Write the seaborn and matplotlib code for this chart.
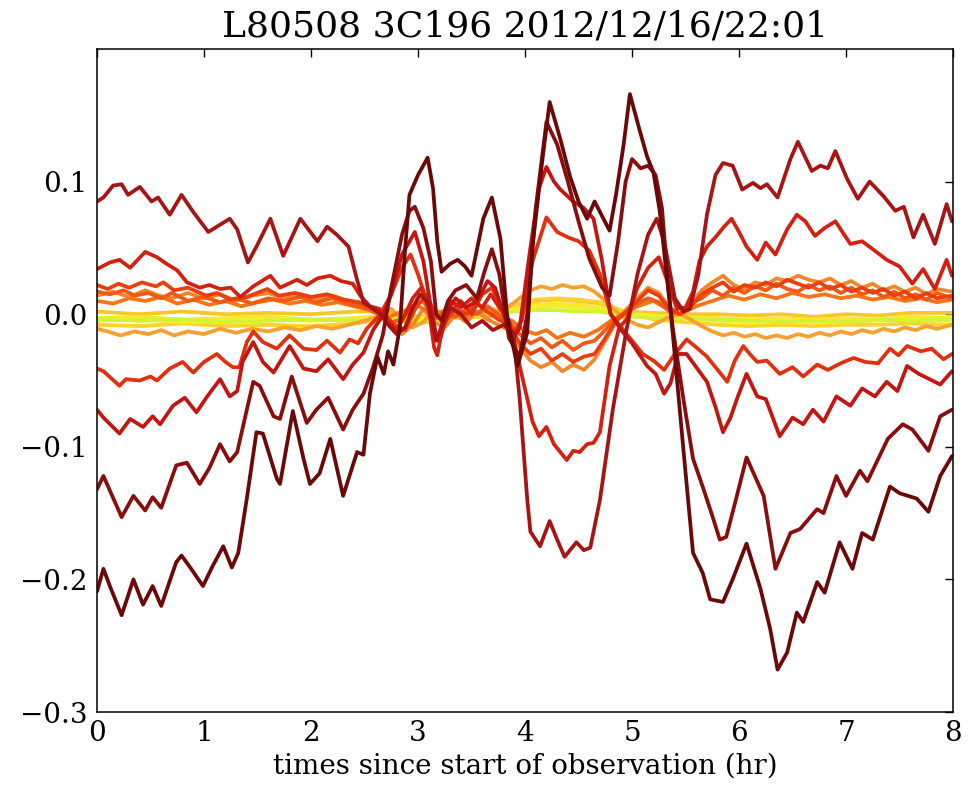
import matplotlib
matplotlib.use("Agg")
import matplotlib.pyplot as plt
import seaborn as sns
import pandas as pd

# ---------------------------------------------------------------- data ----
# time since start of observation (hr) and value for every station trace

f_hr = [0.00, 0.06, 0.12, 0.23, 0.34, 0.43, 0.52, 0.60, 0.74, 0.79, 0.88, 0.99, 1.08, 1.18, 1.26, 1.32,
        1.40, 1.49, 1.55, 1.68, 1.71, 1.83, 1.93, 1.99, 2.08, 2.18, 2.30, 2.43, 2.49, 2.55, 2.62, 2.68,
        2.72, 2.77, 2.83, 2.88, 2.92, 3.00, 3.09, 3.14, 3.18, 3.22, 3.30, 3.37, 3.44, 3.50, 3.61, 3.69,
        3.77, 3.83, 3.86, 3.93, 4.02, 4.07, 4.16, 4.23, 4.33, 4.42, 4.50, 4.58, 4.65, 4.79, 4.85, 4.92,
        4.98, 5.07, 5.14, 5.20, 5.26, 5.36, 5.38, 5.48, 5.57, 5.66, 5.73, 5.85, 5.94, 6.07, 6.20, 6.29,
        6.36, 6.45, 6.54, 6.60, 6.73, 6.80, 6.94, 7.06, 7.15, 7.25, 7.41, 7.50, 7.66, 7.77, 7.88, 7.99]
f_val = [-0.209, -0.192, -0.205, -0.227, -0.200, -0.219, -0.205, -0.220, -0.187, -0.182, -0.192, -0.205,
         -0.190, -0.175, -0.191, -0.180, -0.139, -0.089, -0.090, -0.124, -0.128, -0.073, -0.109, -0.128,
         -0.120, -0.094, -0.137, -0.104, -0.106, -0.060, -0.032, -0.045, -0.028, -0.038, -0.010, 0.050,
         0.090, 0.105, 0.118, 0.095, 0.055, 0.032, 0.038, 0.041, 0.036, 0.029, 0.072, 0.088,
         0.057, 0.001, -0.014, -0.039, -0.014, 0.051, 0.115, 0.160, 0.132, 0.104, 0.085, 0.072,
         0.085, 0.063, 0.090, 0.127, 0.166, 0.139, 0.119, 0.107, 0.077, 0.002, -0.014, -0.102,
         -0.180, -0.195, -0.215, -0.217, -0.200, -0.173, -0.207, -0.237, -0.268, -0.255, -0.225, -0.232,
         -0.202, -0.210, -0.172, -0.192, -0.165, -0.170, -0.130, -0.135, -0.139, -0.149, -0.122, -0.107]

e_hr = [0.00, 0.06, 0.12, 0.23, 0.34, 0.45, 0.52, 0.60, 0.74, 0.84, 0.96, 1.05, 1.15, 1.24, 1.31, 1.40,
        1.46, 1.52, 1.65, 1.71, 1.82, 1.96, 2.05, 2.16, 2.30, 2.39, 2.49, 2.58, 2.67, 2.75, 2.85, 2.92,
        2.97, 3.05, 3.12, 3.17, 3.22, 3.28, 3.35, 3.45, 3.55, 3.62, 3.69, 3.76, 3.85, 3.95, 4.02, 4.10,
        4.20, 4.30, 4.40, 4.50, 4.60, 4.72, 4.79, 4.87, 4.94, 5.00, 5.08, 5.15, 5.22, 5.28, 5.34, 5.38,
        5.48, 5.57, 5.66, 5.75, 5.82, 5.88, 5.97, 6.07, 6.23, 6.34, 6.48, 6.57, 6.73, 6.79, 6.91, 7.00,
        7.13, 7.20, 7.39, 7.53, 7.62, 7.77, 7.88, 7.99]
e_val = [-0.132, -0.122, -0.133, -0.153, -0.137, -0.148, -0.138, -0.146, -0.114, -0.112, -0.128, -0.116,
         -0.098, -0.111, -0.104, -0.072, -0.051, -0.054, -0.077, -0.079, -0.047, -0.082, -0.072, -0.063,
         -0.087, -0.072, -0.060, -0.040, -0.016, 0.020, 0.060, 0.078, 0.081, 0.065, 0.040, 0.000,
         -0.005, 0.010, 0.018, 0.022, 0.012, 0.032, 0.049, 0.030, -0.018, -0.032, 0.000, 0.080,
         0.145, 0.128, 0.100, 0.070, 0.042, 0.020, 0.014, 0.055, 0.100, 0.117, 0.110, 0.112,
         0.105, 0.080, 0.020, -0.010, -0.064, -0.109, -0.130, -0.152, -0.170, -0.168, -0.140, -0.108,
         -0.137, -0.192, -0.165, -0.162, -0.147, -0.150, -0.122, -0.137, -0.118, -0.126, -0.094, -0.083,
         -0.087, -0.103, -0.077, -0.072]

a_hr = [0.00, 0.06, 0.15, 0.23, 0.29, 0.40, 0.51, 0.57, 0.68, 0.79, 0.90, 1.04, 1.12, 1.24, 1.31, 1.41,
        1.49, 1.62, 1.74, 1.90, 2.06, 2.15, 2.24, 2.35, 2.43, 2.49, 2.58, 2.65, 2.72, 2.80, 2.88, 2.95,
        3.02, 3.10, 3.17, 3.22, 3.30, 3.40, 3.50, 3.60, 3.70, 3.80, 3.89, 3.95, 4.02, 4.05, 4.14, 4.23,
        4.30, 4.37, 4.48, 4.55, 4.61, 4.70, 4.82, 4.95, 5.05, 5.15, 5.23, 5.30, 5.40, 5.48, 5.54, 5.62,
        5.70, 5.78, 5.85, 5.94, 6.03, 6.13, 6.20, 6.26, 6.36, 6.48, 6.55, 6.68, 6.76, 6.83, 6.90, 7.01,
        7.11, 7.22, 7.35, 7.46, 7.54, 7.63, 7.72, 7.83, 7.94, 7.99]
a_val = [0.085, 0.088, 0.097, 0.098, 0.090, 0.096, 0.085, 0.088, 0.075, 0.090, 0.077, 0.062,
         0.066, 0.072, 0.064, 0.039, 0.051, 0.072, 0.044, 0.072, 0.055, 0.066, 0.060, 0.051,
         0.026, 0.009, 0.004, 0.000, -0.008, -0.015, -0.010, 0.005, 0.015, 0.008, -0.020, -0.010,
         0.005, 0.000, -0.010, -0.005, -0.012, -0.008, -0.014, -0.064, -0.139, -0.164, -0.175, -0.156,
         -0.170, -0.183, -0.172, -0.178, -0.176, -0.140, -0.072, -0.011, 0.030, 0.060, 0.072, 0.055,
         0.012, 0.002, 0.004, 0.030, 0.075, 0.105, 0.114, 0.112, 0.094, 0.099, 0.095, 0.098,
         0.088, 0.117, 0.130, 0.108, 0.112, 0.110, 0.123, 0.102, 0.087, 0.100, 0.089, 0.078,
         0.081, 0.058, 0.075, 0.053, 0.083, 0.070]

b_hr = [0.00, 0.12, 0.21, 0.31, 0.45, 0.56, 0.65, 0.75, 0.84, 0.96, 1.05, 1.15, 1.25, 1.34, 1.46, 1.62,
        1.71, 1.87, 1.96, 2.06, 2.18, 2.28, 2.39, 2.46, 2.55, 2.64, 2.72, 2.80, 2.88, 2.95, 3.03, 3.10,
        3.15, 3.18, 3.23, 3.30, 3.40, 3.50, 3.60, 3.68, 3.76, 3.85, 3.95, 4.07, 4.13, 4.20, 4.27, 4.33,
        4.39, 4.45, 4.51, 4.58, 4.64, 4.70, 4.79, 4.88, 4.95, 5.05, 5.15, 5.25, 5.33, 5.42, 5.50, 5.57,
        5.63, 5.70, 5.79, 5.86, 5.93, 6.00, 6.07, 6.17, 6.25, 6.34, 6.45, 6.54, 6.62, 6.71, 6.80, 6.90,
        7.04, 7.15, 7.25, 7.38, 7.50, 7.62, 7.72, 7.83, 7.94, 7.99]
b_val = [0.034, 0.039, 0.041, 0.035, 0.047, 0.043, 0.038, 0.033, 0.024, 0.020, 0.022, 0.019,
         0.020, 0.013, 0.021, 0.029, 0.020, 0.026, 0.022, 0.027, 0.029, 0.025, 0.023, 0.014,
         0.006, 0.004, -0.005, -0.012, 0.000, 0.012, 0.020, 0.005, -0.025, -0.031, -0.010, 0.010,
         0.005, 0.012, 0.005, 0.015, 0.005, -0.005, -0.039, -0.081, -0.092, -0.085, -0.098, -0.104,
         -0.110, -0.103, -0.104, -0.098, -0.097, -0.089, -0.039, -0.010, -0.004, 0.020, 0.035, 0.043,
         0.025, 0.004, 0.005, 0.017, 0.040, 0.051, 0.059, 0.066, 0.072, 0.062, 0.051, 0.041,
         0.054, 0.045, 0.064, 0.075, 0.070, 0.059, 0.065, 0.070, 0.053, 0.055, 0.049, 0.041,
         0.036, 0.023, 0.034, 0.019, 0.041, 0.029]

d_hr = [0.00, 0.06, 0.21, 0.31, 0.43, 0.52, 0.59, 0.71, 0.82, 0.93, 1.03, 1.15, 1.24, 1.31, 1.36, 1.46,
        1.55, 1.65, 1.80, 1.93, 2.05, 2.16, 2.30, 2.39, 2.49, 2.58, 2.67, 2.75, 2.85, 2.97, 3.05, 3.12,
        3.18, 3.25, 3.35, 3.45, 3.55, 3.65, 3.72, 3.80, 3.88, 3.95, 4.05, 4.13, 4.20, 4.27, 4.33, 4.45,
        4.55, 4.64, 4.72, 4.80, 4.90, 5.00, 5.14, 5.22, 5.30, 5.36, 5.43, 5.51, 5.60, 5.70, 5.78, 5.85,
        5.92, 5.98, 6.07, 6.17, 6.25, 6.38, 6.50, 6.60, 6.69, 6.79, 6.91, 7.04, 7.15, 7.27, 7.38, 7.48,
        7.57, 7.68, 7.78, 7.88, 7.99]
d_val = [-0.072, -0.078, -0.090, -0.079, -0.085, -0.077, -0.083, -0.069, -0.063, -0.074, -0.062, -0.049,
         -0.062, -0.058, -0.036, -0.021, -0.036, -0.044, -0.024, -0.041, -0.043, -0.034, -0.049, -0.038,
         -0.029, -0.012, -0.001, 0.015, 0.045, 0.062, 0.040, 0.005, -0.020, 0.000, 0.012, 0.005,
         0.010, 0.025, 0.020, 0.000, -0.020, -0.010, 0.050, 0.095, 0.111, 0.100, 0.094, 0.085,
         0.080, 0.072, 0.040, 0.000, -0.012, -0.022, -0.039, -0.045, -0.060, -0.052, -0.030, -0.030,
         -0.040, -0.051, -0.070, -0.089, -0.078, -0.064, -0.045, -0.062, -0.064, -0.092, -0.078, -0.083,
         -0.072, -0.081, -0.062, -0.069, -0.056, -0.062, -0.051, -0.058, -0.039, -0.045, -0.049, -0.053,
         -0.043]

c_hr = [0.00, 0.06, 0.21, 0.27, 0.40, 0.50, 0.56, 0.68, 0.80, 0.90, 1.00, 1.12, 1.20, 1.27, 1.33, 1.40,
        1.46, 1.55, 1.68, 1.80, 1.93, 2.05, 2.15, 2.27, 2.36, 2.44, 2.52, 2.64, 2.75, 2.85, 2.93, 3.00,
        3.08, 3.15, 3.20, 3.28, 3.40, 3.50, 3.60, 3.69, 3.78, 3.88, 3.97, 4.07, 4.20, 4.30, 4.40, 4.50,
        4.60, 4.70, 4.80, 4.95, 5.10, 5.20, 5.30, 5.40, 5.51, 5.60, 5.70, 5.80, 5.89, 5.96, 6.04, 6.10,
        6.17, 6.26, 6.38, 6.50, 6.60, 6.73, 6.83, 6.95, 7.07, 7.18, 7.30, 7.41, 7.49, 7.57, 7.70, 7.80,
        7.91, 7.99]
c_val = [-0.041, -0.043, -0.054, -0.049, -0.050, -0.047, -0.050, -0.041, -0.036, -0.044, -0.036, -0.030,
         -0.036, -0.040, -0.040, -0.021, -0.013, -0.021, -0.026, -0.016, -0.026, -0.027, -0.020, -0.029,
         -0.019, -0.022, -0.011, -0.001, 0.015, 0.035, 0.045, 0.030, 0.010, -0.015, -0.020, 0.000,
         0.010, 0.000, 0.015, 0.020, 0.005, -0.015, -0.005, 0.040, 0.073, 0.062, 0.058, 0.055,
         0.048, 0.030, 0.000, -0.015, -0.030, -0.035, -0.042, -0.030, -0.019, -0.025, -0.032, -0.042,
         -0.051, -0.035, -0.024, -0.030, -0.036, -0.035, -0.045, -0.040, -0.047, -0.038, -0.042, -0.037,
         -0.033, -0.036, -0.037, -0.026, -0.031, -0.024, -0.028, -0.026, -0.034, -0.030]

o1_hr = [0.00, 0.10, 0.20, 0.30, 0.42, 0.55, 0.62, 0.72, 0.85, 1.02, 1.12, 1.25, 1.40, 1.59, 1.70, 1.85,
         2.00, 2.15, 2.30, 2.45, 2.58, 2.68, 2.78, 2.88, 2.98, 3.08, 3.16, 3.25, 3.35, 3.45, 3.55, 3.65,
         3.75, 3.85, 3.95, 4.05, 4.15, 4.25, 4.35, 4.45, 4.55, 4.65, 4.75, 4.85, 4.95, 5.05, 5.15, 5.25,
         5.35, 5.45, 5.55, 5.65, 5.75, 5.85, 5.95, 6.05, 6.15, 6.25, 6.35, 6.45, 6.55, 6.65, 6.75, 6.85,
         6.95, 7.05, 7.15, 7.25, 7.35, 7.45, 7.55, 7.65, 7.75, 7.85, 7.99]
o1_val = [0.022, 0.019, 0.023, 0.020, 0.024, 0.021, 0.024, 0.018, 0.020, 0.014, 0.016, 0.011,
          0.013, 0.019, 0.014, 0.016, 0.013, 0.015, 0.011, 0.009, 0.004, 0.000, -0.008, -0.012,
          0.005, 0.015, 0.000, -0.006, 0.004, 0.000, 0.008, 0.002, -0.004, -0.008, -0.022, -0.030,
          -0.026, -0.035, -0.030, -0.036, -0.032, -0.030, -0.018, -0.005, 0.002, 0.010, 0.018, 0.014,
          0.004, 0.000, 0.006, 0.015, 0.020, 0.024, 0.017, 0.022, 0.020, 0.024, 0.021, 0.026,
          0.023, 0.020, 0.024, 0.019, 0.022, 0.017, 0.020, 0.016, 0.019, 0.014, 0.017, 0.012,
          0.016, 0.012, 0.014]

o2_hr = [0.00, 0.12, 0.25, 0.35, 0.48, 0.60, 0.70, 0.85, 1.00, 1.15, 1.30, 1.45, 1.60, 1.75, 1.90, 2.05,
         2.20, 2.35, 2.50, 2.62, 2.75, 2.85, 2.95, 3.05, 3.15, 3.25, 3.35, 3.45, 3.55, 3.65, 3.75, 3.85,
         3.95, 4.05, 4.15, 4.25, 4.35, 4.45, 4.55, 4.65, 4.75, 4.85, 4.95, 5.05, 5.15, 5.25, 5.35, 5.45,
         5.55, 5.65, 5.75, 5.85, 5.95, 6.05, 6.15, 6.25, 6.35, 6.45, 6.55, 6.65, 6.75, 6.85, 6.95, 7.05,
         7.15, 7.25, 7.35, 7.45, 7.55, 7.65, 7.75, 7.85, 7.99]
o2_val = [0.017, 0.015, 0.018, 0.014, 0.016, 0.012, 0.016, 0.010, 0.013, 0.009, 0.012, 0.008,
          0.012, 0.010, 0.013, 0.009, 0.012, 0.008, 0.005, 0.001, -0.006, -0.004, 0.006, 0.010,
          -0.004, 0.002, -0.002, 0.004, 0.000, 0.006, 0.000, -0.006, -0.015, -0.022, -0.018, -0.025,
          -0.020, -0.027, -0.022, -0.020, -0.012, -0.003, 0.002, 0.008, 0.012, 0.009, 0.002, 0.000,
          0.008, 0.012, 0.018, 0.014, 0.020, 0.016, 0.021, 0.018, 0.023, 0.019, 0.017, 0.022,
          0.018, 0.021, 0.016, 0.020, 0.015, 0.018, 0.013, 0.017, 0.012, 0.015, 0.011, 0.016,
          0.012]

o3_hr = [0.00, 0.15, 0.30, 0.45, 0.60, 0.75, 0.90, 1.05, 1.20, 1.35, 1.50, 1.65, 1.80, 1.95, 2.10, 2.25,
         2.40, 2.55, 2.70, 2.85, 3.00, 3.15, 3.30, 3.45, 3.60, 3.75, 3.88, 3.98, 4.10, 4.20, 4.30, 4.42,
         4.55, 4.68, 4.80, 4.92, 5.05, 5.20, 5.35, 5.45, 5.60, 5.75, 5.90, 6.05, 6.20, 6.35, 6.50, 6.65,
         6.80, 6.95, 7.10, 7.25, 7.40, 7.55, 7.70, 7.85, 7.99]
o3_val = [0.010, 0.008, 0.012, 0.010, 0.013, 0.008, 0.011, 0.007, 0.010, 0.006, 0.009, 0.011,
          0.008, 0.010, 0.007, 0.009, 0.006, 0.003, -0.003, 0.002, 0.006, 0.000, 0.004, -0.002,
          0.003, -0.002, -0.005, -0.012, -0.015, -0.012, -0.018, -0.014, -0.017, -0.012, -0.005, 0.000,
          0.006, 0.010, 0.003, 0.000, 0.006, 0.010, 0.014, 0.011, 0.015, 0.012, 0.016, 0.013,
          0.015, 0.012, 0.014, 0.011, 0.013, 0.010, 0.012, 0.009, 0.011]

o4_hr = [0.00, 0.15, 0.30, 0.45, 0.58, 0.70, 0.85, 1.00, 1.15, 1.30, 1.45, 1.60, 1.75, 1.90, 2.05, 2.20,
         2.35, 2.50, 2.62, 2.75, 2.85, 2.95, 3.05, 3.15, 3.25, 3.35, 3.45, 3.55, 3.65, 3.75, 3.85, 3.95,
         4.05, 4.15, 4.25, 4.35, 4.45, 4.55, 4.65, 4.75, 4.85, 4.95, 5.05, 5.15, 5.25, 5.35, 5.45, 5.55,
         5.65, 5.75, 5.85, 5.95, 6.05, 6.15, 6.25, 6.35, 6.45, 6.55, 6.65, 6.75, 6.85, 6.95, 7.05, 7.15,
         7.25, 7.35, 7.45, 7.55, 7.65, 7.75, 7.85, 7.99]
o4_val = [0.014, 0.017, 0.013, 0.018, 0.014, 0.012, 0.016, 0.012, 0.015, 0.010, 0.014, 0.016,
          0.012, 0.015, 0.012, 0.014, 0.010, 0.006, 0.002, -0.008, -0.015, -0.008, 0.004, -0.006,
          -0.010, 0.000, -0.006, 0.002, -0.004, -0.008, -0.012, -0.025, -0.035, -0.040, -0.036, -0.043,
          -0.038, -0.042, -0.034, -0.020, -0.006, 0.004, 0.012, 0.020, 0.016, 0.005, 0.000, 0.008,
          0.018, 0.024, 0.029, 0.022, 0.019, 0.024, 0.022, 0.027, 0.025, 0.029, 0.026, 0.024,
          0.027, 0.022, 0.025, 0.020, 0.023, 0.018, 0.021, 0.017, 0.020, 0.015, 0.019, 0.017]

lo_hr = [0.00, 0.10, 0.22, 0.35, 0.48, 0.60, 0.72, 0.85, 1.00, 1.15, 1.30, 1.45, 1.60, 1.75, 1.90, 2.05,
         2.20, 2.35, 2.50, 2.62, 2.75, 2.85, 2.95, 3.05, 3.15, 3.25, 3.35, 3.45, 3.55, 3.65, 3.75, 3.85,
         3.95, 4.05, 4.15, 4.25, 4.35, 4.45, 4.55, 4.65, 4.75, 4.85, 4.95, 5.05, 5.15, 5.25, 5.35, 5.45,
         5.55, 5.65, 5.75, 5.85, 5.95, 6.05, 6.15, 6.25, 6.35, 6.45, 6.55, 6.65, 6.75, 6.85, 6.95, 7.05,
         7.15, 7.25, 7.35, 7.45, 7.55, 7.65, 7.75, 7.85, 7.99]
lo_val = [-0.011, -0.013, -0.016, -0.013, -0.015, -0.012, -0.016, -0.013, -0.015, -0.011, -0.014, -0.011,
          -0.013, -0.010, -0.012, -0.009, -0.011, -0.008, -0.005, -0.002, 0.004, -0.004, -0.010, -0.006,
          0.004, -0.002, 0.003, -0.004, 0.002, -0.003, 0.002, 0.006, 0.012, 0.018, 0.021, 0.019,
          0.022, 0.020, 0.021, 0.017, 0.010, 0.002, -0.004, -0.008, -0.010, -0.006, -0.002, 0.000,
          -0.004, -0.009, -0.013, -0.016, -0.014, -0.017, -0.015, -0.018, -0.016, -0.018, -0.015, -0.017,
          -0.014, -0.016, -0.013, -0.015, -0.012, -0.014, -0.011, -0.013, -0.010, -0.012, -0.009, -0.011,
          -0.008]

y_hr = [0.0, 0.4, 0.8, 1.2, 1.6, 2.0, 2.4, 2.7, 3.0, 3.3, 3.6, 3.9, 4.1, 4.3, 4.5, 4.7,
        4.9, 5.2, 5.5, 5.8, 6.1, 6.4, 6.7, 7.0, 7.3, 7.6, 7.99]
y1_val = [0.002, 0.000, 0.002, 0.000, 0.001, 0.000, 0.002, 0.002, -0.002, 0.001, 0.002, 0.006,
          0.010, 0.011, 0.010, 0.008, 0.002, 0.001, 0.000, 0.000, -0.001, 0.000, -0.002, 0.000,
          -0.001, 0.001, 0.001]
y2_val = [-0.003, -0.002, -0.004, -0.003, -0.002, -0.004, -0.003, -0.001, -0.003, 0.000, 0.001, 0.004,
          0.007, 0.008, 0.007, 0.005, 0.001, -0.001, -0.002, -0.003, -0.004, -0.003, -0.004, -0.003,
          -0.004, -0.002, -0.003]
y3_val = [-0.005, -0.004, -0.006, -0.005, -0.004, -0.005, -0.004, -0.002, -0.004, -0.001, 0.000, 0.003,
          0.005, 0.006, 0.005, 0.004, 0.000, -0.002, -0.003, -0.005, -0.006, -0.005, -0.006, -0.005,
          -0.005, -0.004, -0.005]
y4_val = [-0.004, -0.005, -0.004, -0.006, -0.005, -0.004, -0.005, -0.003, -0.005, -0.002, -0.001, 0.002,
          0.003, 0.003, 0.002, 0.002, -0.001, -0.003, -0.003, -0.004, -0.005, -0.006, -0.005, -0.006,
          -0.004, -0.005, -0.004]
y5_val = [-0.008, -0.009, -0.007, -0.009, -0.008, -0.009, -0.007, -0.004, -0.007, -0.003, -0.002, 0.007,
          0.011, 0.012, 0.011, 0.009, 0.003, -0.004, -0.006, -0.008, -0.009, -0.008, -0.009, -0.008,
          -0.008, -0.007, -0.008]

series = [
    ("Y1", y_hr, y1_val, "#fbc626"),
    ("Y2", y_hr, y2_val, "#fde62c"),
    ("Y5", y_hr, y5_val, "#fbd22a"),
    ("Y3", y_hr, y3_val, "#eef22e"),
    ("Y4", y_hr, y4_val, "#d4f234"),
    ("LO", lo_hr, lo_val, "#f5a030"),
    ("O4", o4_hr, o4_val, "#f2862a"),
    ("O3", o3_hr, o3_val, "#f47418"),
    ("O2", o2_hr, o2_val, "#f05a14"),
    ("O1", o1_hr, o1_val, "#ea3e0e"),
    ("C", c_hr, c_val, "#e2300e"),
    ("B", b_hr, b_val, "#d4200e"),
    ("D", d_hr, d_val, "#c31610"),
    ("A", a_hr, a_val, "#a81313"),
    ("E", e_hr, e_val, "#8a0d0d"),
    ("F", f_hr, f_val, "#6c0808"),
]

frames = [pd.DataFrame({"hr": h, "val": v, "station": name}) for name, h, v, _ in series]
df = pd.concat(frames, ignore_index=True)
order = [s[0] for s in series]
palette = {s[0]: s[3] for s in series}

# --------------------------------------------------------------- style ----
sns.set_style("white")
plt.rcParams.update({
    "font.family": ["DejaVu Serif"],
    "mathtext.fontset": "dejavuserif",
    "text.color": "black",
    "axes.labelcolor": "black",
    "axes.titlecolor": "black",
    "xtick.color": "black",
    "ytick.color": "black",
    "xtick.labelcolor": "black",
    "ytick.labelcolor": "black",
    "xtick.direction": "in",
    "ytick.direction": "in",
    "xtick.top": True,
    "ytick.right": True,
    "axes.edgecolor": "black",
    "axes.linewidth": 1.1,
})

fig = plt.figure(figsize=(9.79, 7.86), dpi=100)
ax = fig.add_axes([0.0991, 0.0941, 0.8744, 0.8436])

sns.lineplot(data=df, x="hr", y="val", hue="station", hue_order=order,
             palette=palette, estimator=None, sort=False, legend=False,
             linewidth=2.7, ax=ax)

ax.set_xlim(0, 8)
ax.set_ylim(-0.3, 0.2)
ax.set_xticks(range(0, 9))
ax.set_yticks([-0.3, -0.2, -0.1, 0.0, 0.1])
ax.set_yticklabels(["\u22120.3", "\u22120.2", "\u22120.1", "0.0", "0.1"])
ax.tick_params(axis="both", which="major", length=6, width=1, color="black",
               labelcolor="black", labelsize=20, pad=7, top=True, right=True)
ax.tick_params(axis="x", pad=6)

ax.set_xlabel("times since start of observation (hr)", fontsize=20, labelpad=4,
              color="black")
ax.set_ylabel("")
ax.set_title("L80508 3C196 2012/12/16/22:01", fontsize=26, pad=9, color="black")

fig.savefig("out.png", dpi=100, facecolor="white")
